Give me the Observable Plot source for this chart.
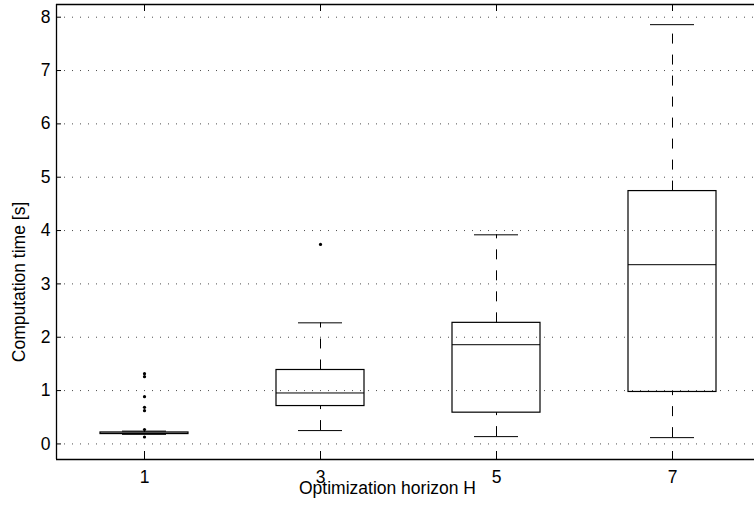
<!DOCTYPE html>
<html>
<head>
<meta charset="utf-8">
<script src="https://cdn.jsdelivr.net/npm/d3@7"></script>
<script src="https://cdn.jsdelivr.net/npm/@observablehq/plot@0.6"></script>
<style>
  html, body { margin: 0; padding: 0; background: #fff; }
  svg { display: block; }
  #chart svg text { font-size: 17.5px; fill: black; }
</style>
</head>
<body>
<div id="chart"></div>
<script>
// Optimization horizon H (categories)
const horizons = [1, 3, 5, 7];
// Box statistics (seconds)
const lowerWhisker = [0.18, 0.25, 0.137, 0.118];
const q1 = [0.185, 0.71, 0.586, 0.974];
const medians = [0.2, 0.955, 1.86, 3.36];
const q3 = [0.215, 1.386, 2.27, 4.74];
const upperWhisker = [0.24, 2.27, 3.92, 7.86];
// Outliers
const outlierH = [1, 1, 1, 1, 1, 1, 1, 3];
const outlierValues = [1.317, 1.26, 0.886, 0.687, 0.624, 0.27, 0.13, 3.74];
// Tick values
const yTicks = [0, 1, 2, 3, 4, 5, 6, 7, 8];
const xTicks = [1, 3, 5, 7];
const xLabel = "Optimization horizon H";
const yLabel = "Computation time [s]";

const boxes = horizons.map((h, i) => ({
  h, lw: lowerWhisker[i], q1: q1[i], med: medians[i], q3: q3[i], uw: upperWhisker[i]
}));
const outliers = outlierH.map((h, i) => ({h, v: outlierValues[i]}));

const yMin = -0.292, yMax = 8.238;
const font = "'Liberation Sans', Arial, Helvetica, sans-serif";

const chart = Plot.plot({
  width: 754,
  height: 506,
  marginLeft: 56,
  marginRight: 0,
  marginTop: 4,
  marginBottom: 47,
  style: {fontFamily: font, fontSize: "17.5px", color: "black", background: "white"},
  x: {type: "linear", domain: [0, 8], range: [56, 760]},
  y: {domain: [yMin, yMax]},
  marks: [
    // dotted horizontal grid
    Plot.ruleY(yTicks, {stroke: "#222", strokeWidth: 1, strokeDasharray: "1,7", strokeOpacity: 0.8}),
    // frame: top, bottom, left (right edge cropped)
    Plot.ruleY([yMin, yMax], {stroke: "black", strokeWidth: 1.3}),
    Plot.ruleX([0], {stroke: "black", strokeWidth: 1.3}),
    // axes with inward ticks
    Plot.axisX(xTicks, {anchor: "bottom", tickSize: -8, tickPadding: 19, tickFormat: "d", label: null}),
    Plot.axisX(xTicks, {anchor: "top", tickSize: -6, tickFormat: () => "", label: null}),
    Plot.axisY(yTicks, {anchor: "left", tickSize: -5, tickPadding: 11, tickFormat: "d", label: null}),
    // whiskers (dashed)
    Plot.ruleX(boxes, {x: "h", y1: "q3", y2: "uw", stroke: "black", strokeDasharray: "10,11"}),
    Plot.ruleX(boxes, {x: "h", y1: "lw", y2: "q1", stroke: "black", strokeDasharray: "10,11"}),
    // whisker caps
    Plot.ruleY(boxes, {y: "uw", x1: d => d.h - 0.25, x2: d => d.h + 0.25, stroke: "black"}),
    Plot.ruleY(boxes, {y: "lw", x1: d => d.h - 0.25, x2: d => d.h + 0.25, stroke: "black"}),
    // boxes
    Plot.rect(boxes, {x1: d => d.h - 0.5, x2: d => d.h + 0.5, y1: "q1", y2: "q3", fill: "none", stroke: "black", strokeWidth: 1.2}),
    // medians
    Plot.ruleY(boxes, {y: "med", x1: d => d.h - 0.5, x2: d => d.h + 0.5, stroke: "black"}),
    // outliers
    Plot.dot(outliers, {x: "h", y: "v", r: 1.6, fill: "black", stroke: null}),
    // axis titles
    Plot.text([xLabel], {frameAnchor: "bottom", dx: -18, dy: 29, text: d => d, textAnchor: "middle", lineAnchor: "middle", fill: "black"}),
    Plot.text([yLabel], {frameAnchor: "left", dx: -37, dy: 50, rotate: -90, text: d => d, textAnchor: "middle", lineAnchor: "middle", fill: "black"})
  ]
});
document.getElementById("chart").appendChild(chart);
</script>
</body>
</html>
